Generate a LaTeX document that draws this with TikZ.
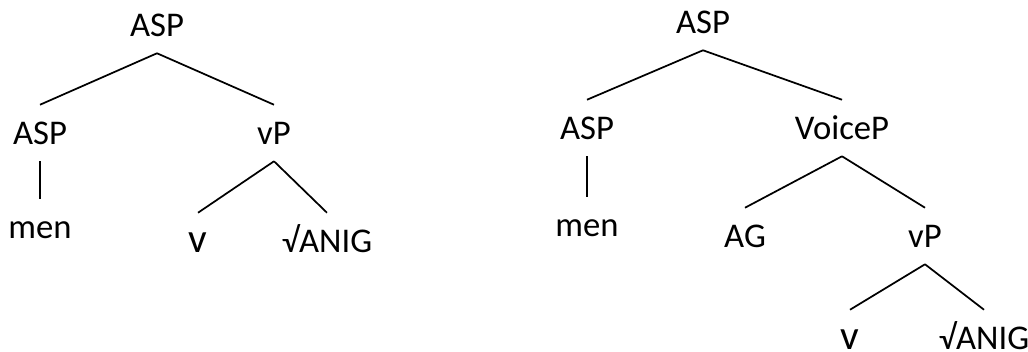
\documentclass[tikz,border=0pt]{standalone}
\usepackage{fontspec}
\setmainfont{Carlito}
\usepackage{tikz}
\usetikzlibrary{positioning}
\tikzset{
    cat/.style={anchor=base, inner sep=0pt, text height=29.25pt, text depth=12.75pt, font=\fontsize{26}{30}\selectfont},
    bigleaf/.style={cat, font=\fontsize{31}{34}\selectfont},
    branch/.style={line width=1.3pt, black}
}

\begin{document}
\begin{tikzpicture}[
    x=0.75pt, y=-0.75pt
]
    \useasboundingbox (0,0) rectangle (1028,351);

    % Left tree
    \node[cat] (lasp) at (157,36) {ASP};
    \node[cat] (laspa) at (40,144) {ASP};
    \node[cat] (lvp) at (274,144) {vP};
    \node[cat] (lmen) at (40,238) {men};
    \node[bigleaf] (lv) at (198,252) {v};
    \node[cat] (lroot) at (327,252) {√ANIG};

    % Right tree
    \node[cat] (rasp) at (703,33) {ASP};
    \node[cat] (raspa) at (587,139) {ASP};
    \node[cat] (rvoice) at (842,139) {VoiceP};
    \node[cat] (rmen) at (587,236) {men};
    \node[cat] (rag) at (745,247) {AG};
    \node[cat] (rvp) at (925,247) {vP};
    \node[bigleaf] (rv) at (850,349) {v};
    \node[cat] (rroot) at (984,349) {√ANIG};

    % Branches
    \draw[branch] (lasp.south) -- (laspa.north);
    \draw[branch] (lasp.south) -- (lvp.north);
    \draw[branch] (laspa.south) -- (lmen.north);
    \draw[branch] (lvp.south) -- (lv.north);
    \draw[branch] (lvp.south) -- (lroot.north);
    \draw[branch] (rasp.south) -- (raspa.north);
    \draw[branch] (rasp.south) -- (rvoice.north);
    \draw[branch] (raspa.south) -- (rmen.north);
    \draw[branch] (rvoice.south) -- (rag.north);
    \draw[branch] (rvoice.south) -- (rvp.north);
    \draw[branch] (rvp.south) -- (rv.north);
    \draw[branch] (rvp.south) -- (rroot.north);
\end{tikzpicture}
\end{document}
